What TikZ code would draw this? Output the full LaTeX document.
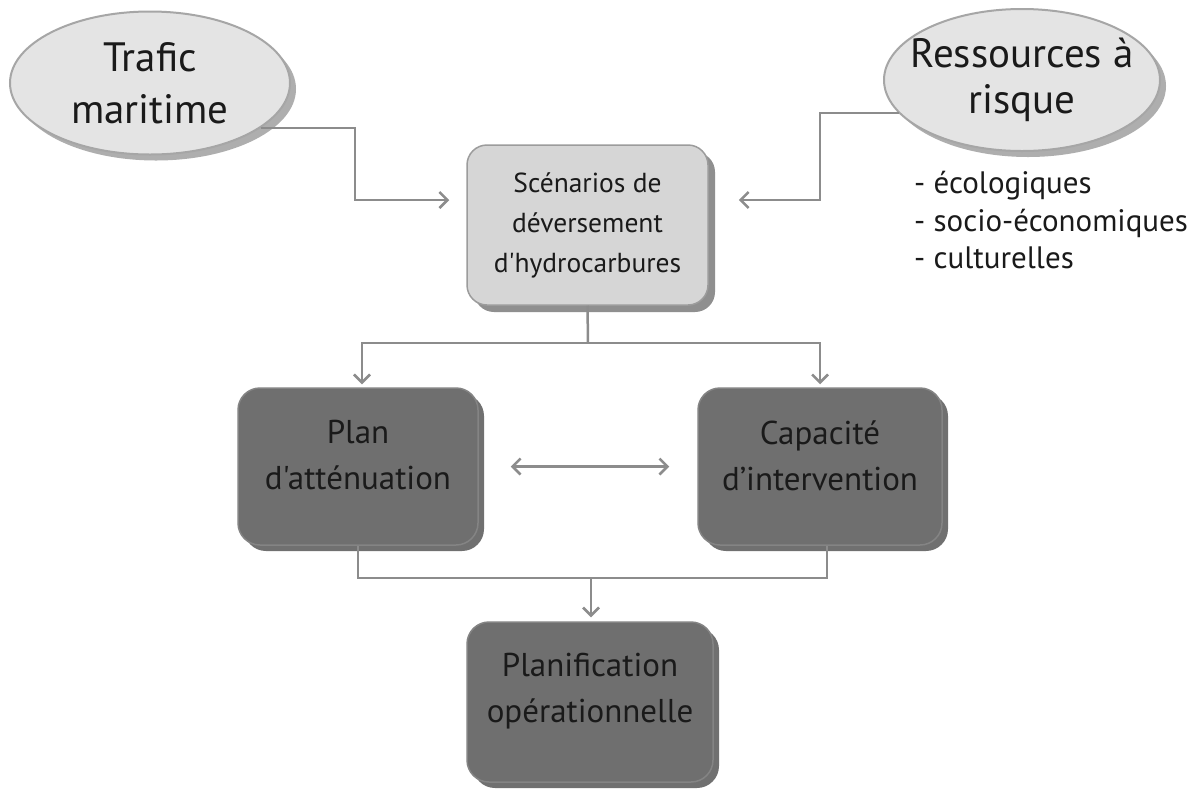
\documentclass[tikz,border=0pt]{standalone}
\usepackage{fontspec}
\setmainfont{PT Sans}[Ligatures=TeXOff]
\usetikzlibrary{shapes.geometric,shadows,arrows.meta,calc}
\definecolor{ellfill}{HTML}{E4E4E4}
\definecolor{ellline}{HTML}{A6A6A6}
\definecolor{lightfill}{HTML}{D6D6D6}
\definecolor{lightline}{HTML}{9C9C9C}
\definecolor{darkfill}{HTML}{6F6F6F}
\definecolor{darkline}{HTML}{848484}
\definecolor{connc}{HTML}{8C8C8C}
\definecolor{txt}{HTML}{1A1A1A}
\tikzset{
  ell/.style={ellipse, draw=ellline, line width=2pt, fill=ellfill, inner xsep=-30pt, inner ysep=-10pt,
    minimum width=280pt, minimum height=143pt, align=center, text=txt,
    drop shadow={shadow xshift=6pt, shadow yshift=-6pt, fill=black!45, opacity=0.7}},
  lightbox/.style={rectangle, rounded corners=20pt, draw=lightline, line width=1.5pt, fill=lightfill,
    minimum width=241pt, minimum height=160pt, align=center, text=txt,
    drop shadow={shadow xshift=7pt, shadow yshift=-7pt, fill=black!55, opacity=0.8}},
  darkbox/.style={rectangle, rounded corners=22pt, draw=darkline, line width=1.5pt, fill=darkfill,
    minimum width=240pt, minimum height=157pt,
    drop shadow={shadow xshift=6pt, shadow yshift=-6pt, fill=black!62, opacity=0.9}},
  boxtext/.style={align=center, text=txt, font=\fontsize{33}{46}\selectfont},
  conn/.style={draw=connc, line width=2.5pt},
  tip/.style={-{Straight Barb[length=8pt,width=16pt]}},
  tips/.style={{Straight Barb[length=8pt,width=16pt]}-{Straight Barb[length=8pt,width=16pt]}}
}
\begin{document}
\begin{tikzpicture}[x=1pt,y=-1pt]
\useasboundingbox[fill=white] (0,0) rectangle (1201,788);
% ellipses
\node[ell, font=\fontsize{41}{52}\selectfont] (trafic) at (150,83) {Trafic\\maritime};
\node[ell, font=\fontsize{41}{46}\selectfont, minimum width=276pt, minimum height=142pt] (ress) at (1022,80) {Ressources à\\risque};
\node[anchor=north west, align=left, text=txt, inner sep=0pt, font=\fontsize{31}{37.5}\selectfont] (list) at (914,171)
  {- écologiques\\- socio-économiques\\- culturelles};
% boxes
\node[lightbox, font=\fontsize{27.5}{40}\selectfont] (scen) at (587.5,225) {Scénarios de\\déversement\\d'hydrocarbures};
\node[darkbox, label={[boxtext, yshift=11pt]center:{Plan\\d'atténuation}}] (plan) at (358,466.5) {};
\node[darkbox, minimum width=244pt, label={[boxtext, yshift=11pt]center:{Capacité\\d’intervention}}] (cap) at (820,466.5) {};
\node[darkbox, minimum width=246pt, minimum height=160pt, label={[boxtext, yshift=11pt]center:{Planification\\opérationnelle}}] (plano) at (590,702) {};
% connectors
\coordinate (tv) at (355,160);
\draw[conn, tip] (trafic.-22) -| (tv) |- ([xshift=-17pt, yshift=25pt]scen.west);
\coordinate (rv) at (820,160);
\draw[conn, tip] (ress.195) -| (rv) |- ([xshift=30pt, yshift=25pt]scen.east);
\coordinate (split) at (588,343);
\draw[conn] (scen.south) -- (split);
\draw[conn, tip] (split) -| ([xshift=4pt, yshift=3pt]plan.north);
\draw[conn, tip] (split) -| ([yshift=3pt]cap.north);
\draw[conn, tips] ([xshift=32pt]plan.east) -- ([xshift=-28pt]cap.west);
\coordinate (merge) at (591,578);
\draw[conn] (plan.south) |- (merge) -| ([xshift=7pt]cap.south);
\draw[conn, tip] (merge) -- ([xshift=1pt, yshift=4pt]plano.north);
\end{tikzpicture}
\end{document}
